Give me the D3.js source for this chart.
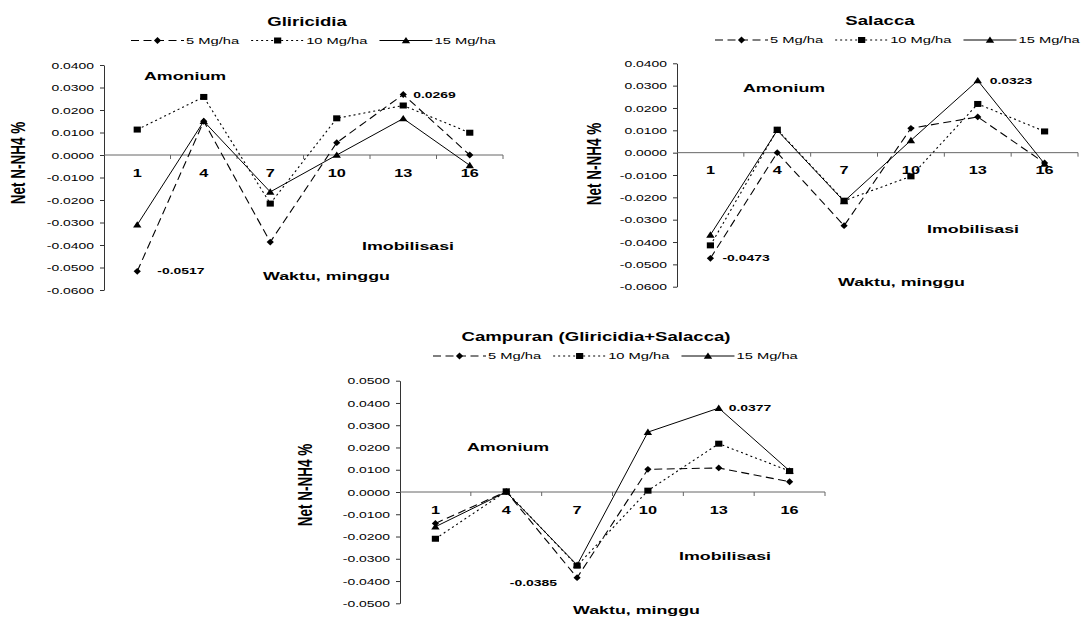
<!DOCTYPE html>
<html>
<head>
<meta charset="utf-8">
<script src="https://cdn.jsdelivr.net/npm/d3@7/dist/d3.min.js"></script>
<style>
  html, body { margin: 0; padding: 0; background: #fff; }
  svg { display: block; font-family: "Liberation Sans", Arial, sans-serif; }
</style>
</head>
<body>
<svg id="chart" width="1083" height="617"></svg>
<script>
// Weeks of incubation (category axis)
const weeks = ["1", "4", "7", "10", "13", "16"];
// Application rates (series)
const rates = ["5 Mg/ha", "10 Mg/ha", "15 Mg/ha"];

// Net N-NH4 (%) — Gliricidia
const gliricidia5  = [-0.0517, 0.0150, -0.0387, 0.0055, 0.0269, 0.0000];
const gliricidia10 = [ 0.0113, 0.0258, -0.0216, 0.0163, 0.0220, 0.0099];
const gliricidia15 = [-0.0310, 0.0150, -0.0164, 0.0000, 0.0162, -0.0046];

// Net N-NH4 (%) — Salacca
const salacca5  = [-0.0473, 0.0000, -0.0327, 0.0109, 0.0160, -0.0046];
const salacca10 = [-0.0415, 0.0103, -0.0215, -0.0106, 0.0218, 0.0095];
const salacca15 = [-0.0368, 0.0100, -0.0218, 0.0055, 0.0323, -0.0050];

// Net N-NH4 (%) — Campuran (Gliricidia+Salacca)
const campuran5  = [-0.0141, 0.0002, -0.0385, 0.0102, 0.0108, 0.0046];
const campuran10 = [-0.0210, 0.0003, -0.0331, 0.0006, 0.0217, 0.0094];
const campuran15 = [-0.0156, 0.0000, -0.0328, 0.0269, 0.0377, 0.0095];

// Y tick values
const ticksSixToFour  = [0.04, 0.03, 0.02, 0.01, 0, -0.01, -0.02, -0.03, -0.04, -0.05, -0.06];
const ticksFiveToFive = [0.05, 0.04, 0.03, 0.02, 0.01, 0, -0.01, -0.02, -0.03, -0.04, -0.05];

// Text annotations
const yTitle = "Net N-NH4 %";
const xTitle = "Waktu, minggu";
const upperNote = "Amonium";
const lowerNote = "Imobilisasi";

// ---------------------------------------------------------------
const SX = 1.55;               // horizontal text stretch
const svg = d3.select("#chart");
svg.append("rect").attr("width", 1083).attr("height", 617).attr("fill", "#fff");

const fmt = v => (v < 0 ? "-" : "") + Math.abs(v).toFixed(4);

function label(sel, x, y, txt, o) {
  o = Object.assign({ size: 11.5, weight: "bold", anchor: "start", rotate: false }, o || {});
  return sel.append("text")
    .attr("transform", `translate(${x},${y}) scale(${SX},1)` + (o.rotate ? " rotate(-90)" : ""))
    .attr("text-anchor", o.anchor)
    .attr("dy", "0.35em")
    .style("font-size", o.size + "px")
    .style("font-weight", o.weight)
    .attr("fill", "#000")
    .text(txt);
}

const styles = [
  { dash: "8,4.5", width: 1.1, marker: "diamond" },
  { dash: "2,3",   width: 1.1, marker: "square" },
  { dash: null,    width: 1.0, marker: "triangle" }
];

function markerPath(kind) {
  if (kind === "diamond")  return "M0,-3.4L3.6,0L0,3.4L-3.6,0Z";
  if (kind === "square")   return "M-3.6,-3L3.6,-3L3.6,3L-3.6,3Z";
  return "M0,-3.6L4.2,2.8L-4.2,2.8Z";
}

function panel(cfg) {
  const g = svg.append("g");
  const x = d3.scaleBand().domain(weeks).range([cfg.x0, cfg.x1]).paddingInner(0).paddingOuter(0);
  const y = d3.scaleLinear().domain(cfg.domain).range([cfg.yBottom, cfg.yTop]);
  const cx = d => x(d) + x.bandwidth() / 2;

  // Y axis
  const ya = g.append("g").attr("transform", `translate(${cfg.x0},0)`)
    .call(d3.axisLeft(y).tickValues(cfg.ticks).tickSize(4).tickSizeOuter(0).tickFormat(fmt));
  ya.select(".domain").attr("stroke", "#333");
  ya.selectAll(".tick line").attr("stroke", "#333");
  ya.selectAll(".tick text")
    .attr("x", null).attr("dy", "0.35em")
    .attr("transform", `translate(-10,0) scale(${SX},1)`)
    .style("font-size", "9px").style("font-family", "Liberation Sans, Arial, sans-serif")
    .attr("fill", "#000");

  // Category axis along zero
  const y0 = y(0);
  g.append("line").attr("x1", cfg.x0).attr("x2", cfg.x1).attr("y1", y0).attr("y2", y0)
    .attr("stroke", "#666").attr("stroke-width", 1);
  g.selectAll(".xtick").data(weeks).enter().append("line")
    .attr("x1", d => x(d) + x.bandwidth()).attr("x2", d => x(d) + x.bandwidth())
    .attr("y1", y0).attr("y2", y0 + 4).attr("stroke", "#666");
  weeks.forEach(w => label(g, cx(w), y0 + 18, w, { size: 10.5, anchor: "middle" }));

  // Series
  const line = d3.line().x((d, i) => cx(weeks[i])).y(d => y(d));
  cfg.series.forEach((vals, si) => {
    const st = styles[si];
    g.append("path").datum(vals).attr("d", line)
      .attr("fill", "none").attr("stroke", "#000").attr("stroke-width", st.width)
      .attr("stroke-dasharray", st.dash);
  });
  cfg.series.forEach((vals, si) => {
    const st = styles[si];
    g.selectAll(null).data(vals).enter().append("path")
      .attr("d", markerPath(st.marker))
      .attr("transform", (d, i) => `translate(${cx(weeks[i])},${y(d)})`)
      .attr("fill", "#000");
  });

  // Value annotations
  cfg.notes.forEach(n => {
    const v = cfg.series[n.s][n.i];
    label(g, cx(weeks[n.i]) + n.dx, y(v) + n.dy, fmt(v), { size: 9, anchor: n.anchor || "start" });
  });

  // Titles and notes
  label(g, cfg.titleX, cfg.titleY, cfg.title, { size: 12, anchor: "middle" });
  label(g, cfg.yTitleX, cfg.yTitleY, yTitle, { size: 13.5, anchor: "middle", rotate: true });
  label(g, cfg.xTitleX, cfg.xTitleY, xTitle, { size: 11.5 });
  label(g, cfg.upX, cfg.upY, upperNote, { size: 11.5 });
  label(g, cfg.loX, cfg.loY, lowerNote, { size: 11.5 });

  // Legend
  let lx = cfg.legX;
  const ly = cfg.legY;
  rates.forEach((r, si) => {
    const st = styles[si];
    g.append("line").attr("x1", lx).attr("x2", lx + 53).attr("y1", ly).attr("y2", ly)
      .attr("stroke", "#000").attr("stroke-width", st.width).attr("stroke-dasharray", st.dash);
    g.append("path").attr("d", markerPath(st.marker))
      .attr("transform", `translate(${lx + 26.5},${ly})`).attr("fill", "#000");
    const t = label(g, lx + 55, ly, r, { size: 9.5, weight: "normal" });
    lx = lx + 55 + t.node().getComputedTextLength() * SX + 12;
  });
}

panel({
  title: "Gliricidia", titleX: 307, titleY: 22,
  legX: 131, legY: 40.5,
  x0: 104, x1: 503, yTop: 65, yBottom: 290, domain: [-0.06, 0.04], ticks: ticksSixToFour,
  series: [gliricidia5, gliricidia10, gliricidia15],
  notes: [{ s: 0, i: 0, dx: 20, dy: 0 }, { s: 0, i: 4, dx: 10, dy: 0 }],
  yTitleX: 18, yTitleY: 163, xTitleX: 263, xTitleY: 276,
  upX: 144, upY: 76, loX: 362, loY: 246
});

panel({
  title: "Salacca", titleX: 880, titleY: 21,
  legX: 715, legY: 40,
  x0: 677, x1: 1078, yTop: 63.3, yBottom: 286.7, domain: [-0.06, 0.04], ticks: ticksSixToFour,
  series: [salacca5, salacca10, salacca15],
  notes: [{ s: 0, i: 0, dx: 12, dy: 0 }, { s: 2, i: 4, dx: 12, dy: 0 }],
  yTitleX: 594, yTitleY: 164, xTitleX: 838, xTitleY: 282,
  upX: 743, upY: 88, loX: 927, loY: 229
});

panel({
  title: "Campuran (Gliricidia+Salacca)", titleX: 596, titleY: 337,
  legX: 433, legY: 356,
  x0: 400, x1: 825, yTop: 380.7, yBottom: 603.3, domain: [-0.05, 0.05], ticks: ticksFiveToFive,
  series: [campuran5, campuran10, campuran15],
  notes: [{ s: 2, i: 4, dx: 10, dy: 0 }, { s: 0, i: 2, dx: -20, dy: 5, anchor: "end" }],
  yTitleX: 305, yTitleY: 485, xTitleX: 573, xTitleY: 610,
  upX: 467, upY: 447, loX: 679, loY: 556
});
</script>
</body>
</html>
